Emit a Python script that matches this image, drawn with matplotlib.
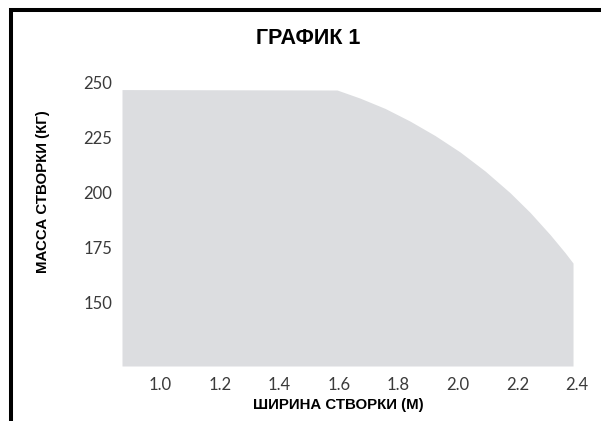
import numpy as np
import matplotlib
matplotlib.use('Agg')
import matplotlib.pyplot as plt
from matplotlib.lines import Line2D

# ## Data ## #
# outline of the allowed area: leaf width (m) vs leaf mass (kg)
width = [0.872, 1.594, 1.671, 1.755, 1.839, 1.923, 2.007, 2.091,
         2.174, 2.242, 2.309, 2.359, 2.386]
mass = [247.0, 246.8, 243.1, 238.4, 232.6, 226.0, 218.5, 209.8,
        200.0, 190.9, 180.8, 172.6, 167.8]
massBase = 120.8  # bottom of the shaded area

xTicks = [1.0, 1.2, 1.4, 1.6, 1.8, 2.0, 2.2, 2.4]
yTicks = [150, 175, 200, 225, 250]

title = 'ГРАФИК 1'
xLabel = 'ШИРИНА СТВОРКИ (М)'
yLabel = 'МАССА СТВОРКИ (КГ)'

# ## Figure ## #
W, H = 601, 421
fig = plt.figure(figsize=(W / 100, H / 100), dpi=100)

# axes box in pixels: left, right, top, bottom
axL, axR, axT, axB = 122, 590, 75, 366
ax = fig.add_axes([axL / W, 1 - axB / H, (axR - axL) / W, (axB - axT) / H])

ax.fill_between(width, massBase, mass, color='#dcdde0', linewidth=0)

ax.set_xlim(0.872, 2.443)
ax.set_ylim(massBase, 253.65)
ax.set_xticks(xTicks)
ax.set_xticklabels(['%.1f' % v for v in xTicks])
ax.set_yticks(yTicks)
for s in ax.spines.values():
    s.set_visible(False)
ax.tick_params(axis='both', length=0, labelsize=12, labelcolor='#3a3a3a')
ax.tick_params(axis='x', pad=8)
ax.tick_params(axis='y', pad=7)
for lab in ax.get_xticklabels() + ax.get_yticklabels():
    lab.set_family('Lato')

# texts
fig.text(308 / W, 1 - 38 / H, title, ha='center', va='center',
         fontsize=15.5, fontweight='bold', family='Liberation Sans')
fig.text(338 / W, 1 - 405 / H, xLabel, ha='center', va='center',
         fontsize=10.8, fontweight='bold', family='Liberation Sans')
fig.text(43 / W, 1 - 192 / H, yLabel, ha='center', va='center',
         rotation=90, fontsize=10.8, fontweight='bold',
         family='Liberation Sans')

# black frame (only left and top edges are in view)
fig.add_artist(Line2D([11 / W, 11 / W, 1.01], [-0.01, 1 - 10 / H, 1 - 10 / H],
                      transform=fig.transFigure, color='black',
                      linewidth=2.9, solid_joinstyle='miter'))

fig.savefig('out.png', dpi=100, facecolor='w')
